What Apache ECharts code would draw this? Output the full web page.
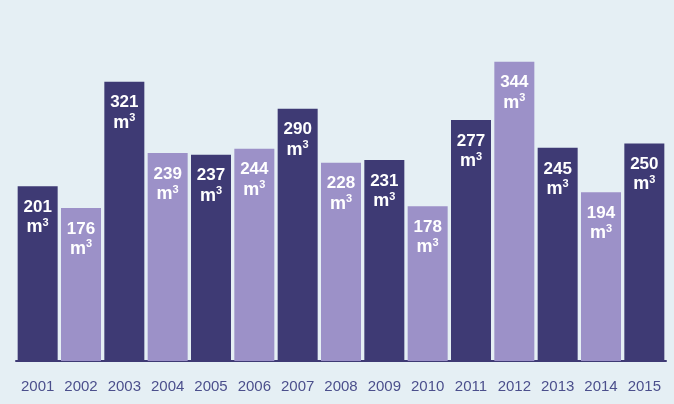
<!DOCTYPE html>
<html><head><meta charset="utf-8">
<script src="https://cdn.jsdelivr.net/npm/echarts@6/dist/echarts.min.js"></script>
<style>html,body{margin:0;padding:0;background:#e5eff4;}#c{width:674px;height:404px;}</style>
</head><body><div id="c"></div>
<script>
const years = ['2001','2002','2003','2004','2005','2006','2007','2008','2009','2010','2011','2012','2013','2014','2015'];
const volumes = [201,176,321,239,237,244,290,228,231,178,277,344,245,194,250];
const darkColor = '#3e3a74';
const lightColor = '#9c91c8';
const ff = 'Liberation Sans, Arial, sans-serif';

const chart = echarts.init(document.getElementById('c'));
chart.setOption({
  backgroundColor: '#e5eff4',
  animation: false,
  grid: {left: 16, right: 8, top: 13, bottom: 43},
  xAxis: {
    type: 'category', data: years,
    axisLine: {lineStyle: {color: '#3e3a74', width: 2}},
    axisTick: {show: false},
    axisLabel: {interval: 0, color: '#4b4f8c', fontSize: 15, fontFamily: ff, margin: 18}
  },
  yAxis: {type: 'value', min: 0, max: 400, show: false, splitLine: {show: false}},
  series: [{
    type: 'bar', barWidth: 40,
    data: volumes.map((v, i) => ({value: v, itemStyle: {color: i % 2 === 0 ? darkColor : lightColor}})),
    label: {
      show: true, position: 'insideTop', distance: 11,
      formatter: p => '{n|' + p.value + '}\n{m|m}{s|3}',
      rich: {
        n: {color: '#fff', fontSize: 17, fontWeight: 'bold', fontFamily: ff, lineHeight: 20, align: 'center'},
        m: {color: '#fff', fontSize: 18, fontWeight: 'bold', fontFamily: ff, lineHeight: 20},
        s: {color: '#fff', fontSize: 11, fontWeight: 'bold', fontFamily: ff, padding: [0, 0, 9, 0], lineHeight: 20}
      }
    }
  }]
});
</script></body></html>
